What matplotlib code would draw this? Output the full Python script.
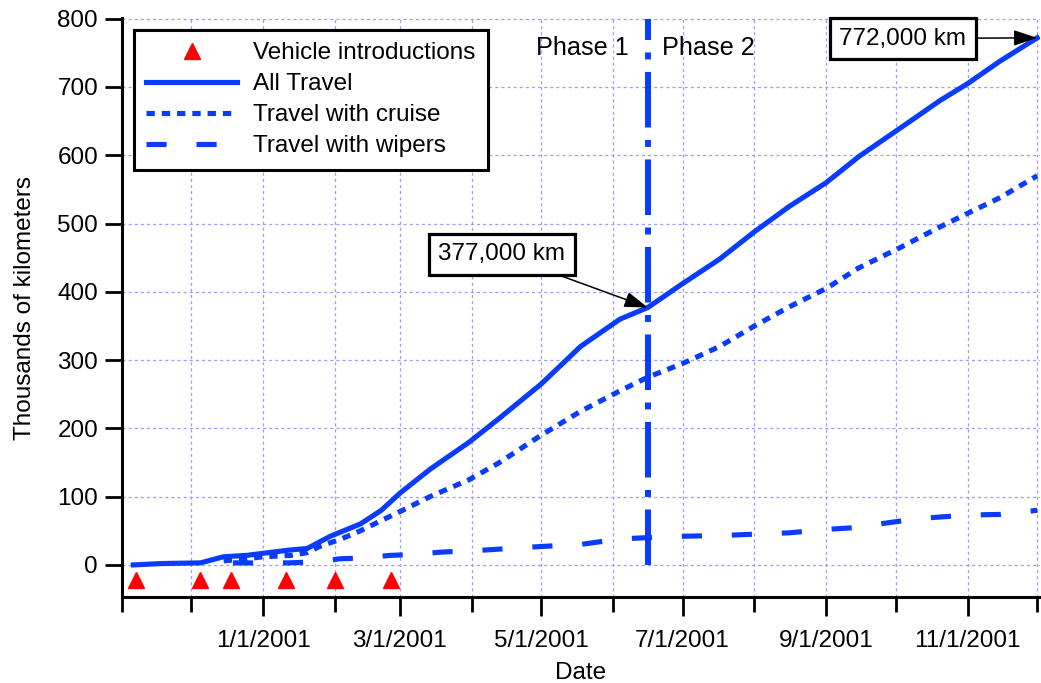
# Cumulative kilometers travelled by the test fleet, Nov 2000 - Dec 2001
import pandas as pd
import matplotlib.pyplot as plt
import matplotlib.dates as mdates
from matplotlib.ticker import FuncFormatter

plt.rcParams['font.family'] = ['Liberation Sans', 'DejaVu Sans']
plt.rcParams['lines.scale_dashes'] = False

# vehicle introductions (plotted just below zero)
intro_dates = ['2000-11-07', '2000-12-05', '2000-12-18', '2001-01-11', '2001-02-01', '2001-02-25']
intro_level = -22

# all travel, thousands of km
all_dates = ['2000-11-06', '2000-11-18', '2000-12-05', '2000-12-15', '2000-12-25', '2001-01-01',
             '2001-01-13', '2001-01-20', '2001-01-30', '2001-02-12', '2001-02-21', '2001-03-01',
             '2001-03-14', '2001-03-31', '2001-04-13', '2001-05-01', '2001-05-18', '2001-06-04',
             '2001-06-16', '2001-07-01', '2001-07-17', '2001-08-01', '2001-08-16', '2001-09-01',
             '2001-09-15', '2001-10-03', '2001-10-20', '2001-11-01', '2001-11-15', '2001-12-01']
all_km = [0, 2, 3, 12, 14, 17, 22, 24, 42, 60, 80, 105, 140, 180, 215, 265, 320, 360,
          377, 412, 448, 488, 525, 560, 598, 640, 680, 705, 738, 772]

# travel with cruise control on
cruise_dates = ['2000-12-15', '2000-12-25', '2001-01-01', '2001-01-13', '2001-01-20', '2001-01-26',
                '2001-02-03', '2001-02-12', '2001-02-21', '2001-03-01', '2001-03-14', '2001-03-31',
                '2001-04-13', '2001-05-01', '2001-05-18', '2001-06-04', '2001-06-16', '2001-07-01',
                '2001-07-17', '2001-08-01', '2001-08-16', '2001-09-01', '2001-09-15', '2001-10-03',
                '2001-10-20', '2001-11-01', '2001-11-15', '2001-12-01']
cruise_km = [6, 9, 12, 14, 18, 28, 37, 50, 65, 78, 100, 125, 150, 190, 225, 255, 275, 295,
             320, 350, 378, 405, 435, 465, 495, 515, 538, 570]

# travel with wipers on
wiper_dates = ['2000-12-19', '2000-12-31', '2001-01-12', '2001-01-20', '2001-01-28', '2001-02-03',
               '2001-02-12', '2001-02-25', '2001-03-05', '2001-03-20', '2001-04-03', '2001-05-01',
               '2001-05-18', '2001-06-04', '2001-06-16', '2001-07-01', '2001-07-17', '2001-08-01',
               '2001-08-16', '2001-09-01', '2001-09-15', '2001-09-24', '2001-10-11', '2001-11-01',
               '2001-11-15', '2001-12-01']
wiper_km = [3, 3, 3, 4, 6, 9, 10, 14, 15, 19, 21, 27, 30, 38, 40, 42, 43, 45, 47, 52, 55,
            60, 68, 73, 74, 80]

phase_change = '2001-06-16'
label_dates = ['2001-01-01', '2001-03-01', '2001-05-01', '2001-07-01', '2001-09-01', '2001-11-01']

blue = '#0a3cff'
fs = 17.5

fig = plt.figure(figsize=(10.41, 6.83), dpi=100)
ax = fig.add_axes([0.1169, 0.1259, 0.8817, 0.8477])

ax.plot(pd.to_datetime(intro_dates), [intro_level] * len(intro_dates), linestyle='none',
        marker='^', color='red', markersize=11, label='Vehicle introductions', clip_on=False, zorder=5)
ax.plot(pd.to_datetime(all_dates), all_km, color=blue, lw=3.7, label='All Travel')
ax.plot(pd.to_datetime(cruise_dates), cruise_km, color=blue, lw=3.7, linestyle=(0, (6, 5)),
        label='Travel with cruise')
ax.plot(pd.to_datetime(wiper_dates), wiper_km, color=blue, lw=3.7, linestyle=(0, (14.5, 21.5)),
        label='Travel with wipers')

# phase boundary
pc = pd.Timestamp(phase_change)
ax.plot([pc, pc], [0, 800], color=blue, lw=4.3, linestyle=(0, (40, 9, 5, 9)), zorder=4)
ax.annotate('Phase 1', xy=(pc, 757), xytext=(-13.5, 0), textcoords='offset points',
            ha='right', va='center', fontsize=18.2)
ax.annotate('Phase 2', xy=(pc, 757), xytext=(10.5, 0), textcoords='offset points',
            ha='left', va='center', fontsize=18.2)

box = dict(boxstyle='square,pad=0.4', fc='white', ec='black', lw=2.3)
arrow = dict(arrowstyle='-|>,head_length=0.9,head_width=0.3', color='black', lw=1.1,
             mutation_scale=16, shrinkA=0, shrinkB=0)
ax.annotate('377,000 km', xy=(pc, 377), xytext=(pd.Timestamp('2001-04-14'), 455),
            ha='center', va='center', fontsize=fs, bbox=box, arrowprops=arrow, zorder=6)
ax.annotate('772,000 km', xy=(pd.Timestamp('2001-12-01'), 772),
            xytext=(pd.Timestamp('2001-10-04'), 771),
            ha='center', va='center', fontsize=fs, bbox=box, arrowprops=arrow, zorder=6,
            annotation_clip=False)

# axes, ticks and grid
ax.set_xlim(pd.Timestamp('2000-11-01'), pd.Timestamp('2001-12-02'))
ax.set_ylim(-47, 801)
ax.set_yticks(range(0, 801, 100))
ax.set_xticks(pd.to_datetime(label_dates))
ax.xaxis.set_minor_locator(mdates.MonthLocator())
ax.xaxis.set_major_formatter(FuncFormatter(
    lambda v, p: '{}/{}/{}'.format(mdates.num2date(v).month, mdates.num2date(v).day,
                                   mdates.num2date(v).year)))

for s in ['top', 'right']:
    ax.spines[s].set_visible(False)
for s in ['left', 'bottom']:
    ax.spines[s].set_linewidth(2.2)

ax.tick_params(axis='both', which='major', labelsize=fs, width=2, color='black')
ax.tick_params(axis='x', which='major', length=14, pad=10)
ax.tick_params(axis='x', which='minor', length=11, width=2)
ax.tick_params(axis='y', which='major', length=12, pad=5)

ax.grid(True, which='both', color='#9c9cff', lw=0.9, linestyle=(0, (2.2, 2.2)))
ax.set_axisbelow(True)

ax.set_xlabel('Date', fontsize=fs, labelpad=7)
ax.set_ylabel('Thousands of kilometers', fontsize=fs, labelpad=15)

leg = ax.legend(loc='upper left', fontsize=fs, handlelength=3.75, handletextpad=0.66,
                labelspacing=0.37, borderaxespad=0.5, borderpad=0.5, numpoints=1,
                fancybox=False, framealpha=1, edgecolor='black')
leg.get_frame().set_linewidth(2.2)

plt.savefig('out.png', dpi=100)
